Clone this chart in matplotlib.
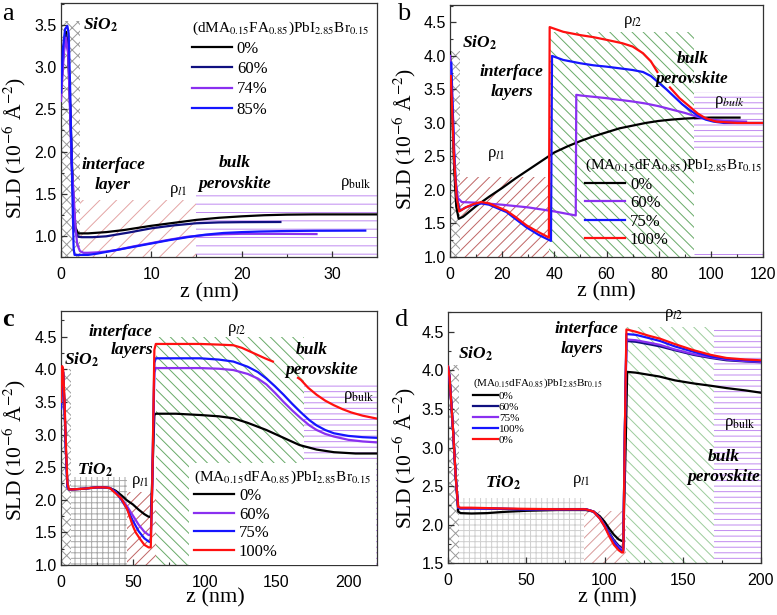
"""
SLD profiles (a–d) – four panels with hatched layer regions.
"""
import numpy as np
import matplotlib.pyplot as plt
from matplotlib.patches import Rectangle
from matplotlib.ticker import MultipleLocator

plt.rcParams['font.family'] = ['Liberation Serif', 'DejaVu Serif']
plt.rcParams['mathtext.fontset'] = 'stix'
plt.rcParams['hatch.linewidth'] = 0.7

nan = np.nan

# ── colours ─────────────────────────────────────────────────────────────────
BLACK, NAVY, PURPLE, BLUE, RED = '#000000', '#101080', '#8a30f0', '#1515ff', '#ff1010'
C_SIO2, C_TIO2 = '#9a9a9a', '#a8a8a8'
C_L1, C_L2, C_BULK = '#c06565', '#68aa68', '#c08af0'

TITLE_A = '(dMA$_{0.15}$FA$_{0.85}$)PbI$_{2.85}$Br$_{0.15}$'
TITLE_BCD = '(MA$_{0.15}$dFA$_{0.85}$)PbI$_{2.85}$Br$_{0.15}$'

# ── panel a ─────────────────────────────────────────────────────────────────
A_LABELS = ['0%', '60%', '74%', '85%']
A_Z_0 = [0, 0.3, 0.55, 0.8, 1.0, 1.2, 1.4, 1.6, 1.9, 3, 5, 7, 10, 12.5, 15,
         17.5, 20, 22.5, 25, 28, 35]
A_SLD_0 = [2.75, 3.25, 3.42, 3.2, 2.6, 1.9, 1.35, 1.1, 1.03, 1.03, 1.045, 1.07,
           1.12, 1.155, 1.19, 1.215, 1.232, 1.245, 1.252, 1.255, 1.255]
A_Z_60 = [0, 0.3, 0.55, 0.8, 1.0, 1.2, 1.4, 1.6, 1.9, 2.3, 3.5, 5, 7.5, 10,
          12.5, 15, 17.5, 20, 24.3]
A_SLD_60 = [2.7, 3.2, 3.38, 3.18, 2.55, 1.85, 1.3, 1.05, 0.99, 0.985, 0.985,
            0.995, 1.04, 1.09, 1.125, 1.15, 1.16, 1.163, 1.165]
A_Z_74 = [0, 0.3, 0.55, 0.8, 1.0, 1.2, 1.4, 1.6, 1.8, 2.1, 2.5, 3, 4, 5, 6, 8,
          10, 12, 14, 16, 18, 20, 22, 25, 28.3]
A_SLD_74 = [2.6, 3.15, 3.35, 3.15, 2.5, 1.8, 1.5, 1.1, 0.9, 0.82, 0.80, 0.80,
            0.805, 0.815, 0.83, 0.875, 0.915, 0.955, 0.99, 1.01, 1.02, 1.025,
            1.025, 1.024, 1.022]
A_Z_85 = [0, 0.2, 0.45, 0.7, 0.85, 1.0, 1.2, 1.4, 1.5, 2, 3, 4, 5, 6, 8, 10, 12,
          14, 16, 18, 20, 22, 25, 28, 33.7]
A_SLD_85 = [2.7, 3.2, 3.45, 3.49, 3.4, 2.8, 1.8, 0.85, 0.775, 0.775, 0.775,
            0.79, 0.81, 0.83, 0.87, 0.91, 0.95, 0.985, 1.015, 1.035, 1.045,
            1.052, 1.058, 1.061, 1.063]

# ── panel b ─────────────────────────────────────────────────────────────────
B_LABELS = ['0%', '60%', '75%', '100%']
B_Z_0 = [0, 0.8, 1.6, 2.4, 3.3, 5, 7.5, 10, 15, 20, 25, 30, 35, 40, 45, 50, 55,
         60, 65, 70, 75, 80, 85, 90, 95, 100, 111]
B_SLD_0 = [4.05, 3.2, 2.3, 1.75, 1.57, 1.6, 1.68, 1.76, 1.9, 2.03, 2.17, 2.3,
           2.43, 2.56, 2.65, 2.73, 2.8, 2.86, 2.92, 2.96, 3.0, 3.03, 3.05,
           3.065, 3.075, 3.08, 3.08]
B_Z_60 = [0, 1, 2, 3, 4.5, 10, 20, 30, 40, 48.2, 48.4, 50, 60, 70, 75, 80, 85,
          90, 95, 100, 105, 113.5]
B_SLD_60 = [4.0, 3.2, 2.2, 1.88, 1.82, 1.81, 1.78, 1.74, 1.68, 1.62, 3.42, 3.41,
            3.37, 3.32, 3.29, 3.25, 3.2, 3.15, 3.09, 3.05, 3.03, 3.02]
B_Z_75 = [0.5, 1.5, 2.5, 3.8, 6, 9, 12, 15, 18, 21.7, 25, 29.4, 34, 38.7, 39.1,
          43.4, 50, 55, 60, 66, 70, 74, 77, 80, 83, 86, 89, 92, 95, 98, 101,
          105, 110, 120]
B_SLD_75 = [3.9, 2.6, 1.9, 1.69, 1.74, 1.78, 1.8, 1.78, 1.73, 1.67, 1.57, 1.44,
            1.33, 1.24, 4.0, 3.94, 3.89, 3.86, 3.84, 3.81, 3.79, 3.76, 3.7, 3.6,
            3.5, 3.39, 3.28, 3.19, 3.11, 3.05, 3.02, 3.0, 3.0, 3.0]
B_Z_100 = [0.3, 1.5, 2.5, 3.5, 6, 9, 12, 15, 18, 21.7, 25, 29.4, 34, 37.9, 38.2,
           43.4, 50, 55, 60, 66, 70, 74, 77, 79.5, nan, 84.3, 88, 92, 95, 98,
           102, 106, 110, 120]
B_SLD_100 = [3.7, 2.5, 1.9, 1.68, 1.74, 1.79, 1.82, 1.8, 1.75, 1.69, 1.6, 1.47,
             1.37, 1.29, 4.43, 4.36, 4.31, 4.28, 4.24, 4.19, 4.14, 4.04, 3.92,
             3.76, nan, 3.53, 3.37, 3.24, 3.14, 3.07, 3.02, 3.01, 3.0, 3.0]

# ── panel c ─────────────────────────────────────────────────────────────────
C_LABELS = ['0%', '60%', '75%', '100%']
C_Z_0 = [0, 0.8, 1.5, 2.5, 3.5, 4.5, 5.5, 8, 12, 16, 20, 25, 30, 34, 38, 42, 46,
         50, 54, 58, 61, 62.5, 63.5, 65, 66, 80, 97, 110, 120, 130, 143, 155,
         166, 178, 190, 205, 220]
C_SLD_0 = [3.4, 4.02, 3.95, 3.4, 2.7, 2.2, 2.16, 2.16, 2.165, 2.17, 2.18, 2.19,
           2.19, 2.18, 2.14, 2.07, 1.99, 1.93, 1.85, 1.78, 1.74, 1.74, 2.3, 3.3,
           3.32, 3.32, 3.3, 3.28, 3.25, 3.18, 3.07, 2.95, 2.84, 2.77, 2.73,
           2.71, 2.71]
C_Z = [0, 0.8, 1.5, 2.5, 3.5, 4.5, 5.5, 8, 12, 16, 20, 25, 30, 34, 38, 42, 46,
       50, 54, 58, 61, 62.5, 63.5, 65, 66, 80, 97, 110, 120, 130, 137, 143, 149,
       155, 161, 167, 173, 178, 184, 190, 200, 210, 220]
C_SLD_60 = [3.4, 4.02, 3.95, 3.4, 2.7, 2.2, 2.16, 2.16, 2.165, 2.17, 2.18, 2.19,
            2.19, 2.18, 2.12, 2.02, 1.9, 1.76, 1.62, 1.51, 1.46, 1.46, 2.2,
            3.95, 4.02, 4.02, 4.02, 4.01, 3.99, 3.93, 3.86, 3.77, 3.64, 3.5,
            3.37, 3.25, 3.14, 3.07, 3.01, 2.97, 2.92, 2.895, 2.88]
C_SLD_75 = [3.4, 4.02, 3.95, 3.4, 2.7, 2.2, 2.16, 2.16, 2.165, 2.17, 2.18, 2.19,
            2.19, 2.18, 2.12, 2.0, 1.86, 1.68, 1.52, 1.41, 1.36, 1.35, 2.2, 4.1,
            4.17, 4.17, 4.17, 4.15, 4.12, 4.04, 3.96, 3.86, 3.74, 3.61, 3.47,
            3.34, 3.22, 3.14, 3.07, 3.02, 2.98, 2.96, 2.95]
C_Z_100 = [0, 0.8, 1.5, 2.5, 3.5, 4.5, 5.5, 8, 12, 16, 20, 25, 30, 34, 38, 42,
           46, 50, 52, 55, 58, 61, 62.5, 63.5, 65, 66, 80, 97, 110, 120, 126,
           132, 138, 142, 147.5, nan, 165, 167, 172, 178, 184, 190, 196, 202,
           210, 220]
C_SLD_100 = [3.5, 4.05, 4.0, 3.5, 2.8, 2.25, 2.16, 2.16, 2.165, 2.17, 2.18,
             2.19, 2.19, 2.18, 2.1, 2.02, 1.86, 1.6, 1.5, 1.4, 1.31, 1.27, 1.27,
             2.2, 4.3, 4.39, 4.39, 4.39, 4.38, 4.37, 4.33, 4.27, 4.21, 4.17,
             4.12, nan, 3.87, 3.84, 3.72, 3.61, 3.52, 3.45, 3.39, 3.34, 3.29,
             3.245]

# ── panel d ─────────────────────────────────────────────────────────────────
D_LABELS = ['0%', '60%', '75%', '100%', '0%']
D_Z_0 = [0, 1, 3, 5, 6.5, 8, 15, 25, 35, 50, 70, 88, 93, 97, 100, 103, 106, 109,
         111, 112, 113.5, 114.5, 120, 135, 145, 157, 168, 178, 190, 200]
D_SLD_0 = [4.05, 3.9, 3.3, 2.6, 2.17, 2.15, 2.145, 2.15, 2.165, 2.18, 2.19,
           2.19, 2.17, 2.11, 2.04, 1.95, 1.87, 1.81, 1.79, 1.8, 3.0, 3.98, 3.97,
           3.92, 3.87, 3.83, 3.8, 3.77, 3.74, 3.71]
D_Z = [0, 1, 3, 5, 6.5, 8, 15, 25, 35, 50, 70, 88, 93, 97, 100, 103, 106, 109,
       111, 112, 113, 114, 120, 128, 135.5, 145, 157, 168, 178, 190, 200]
D_SLD_60 = [4.05, 3.9, 3.3, 2.6, 2.22, 2.21, 2.21, 2.21, 2.205, 2.2, 2.2, 2.2,
            2.17, 2.09, 2.0, 1.9, 1.8, 1.73, 1.7, 1.7, 3.2, 4.38, 4.37, 4.34,
            4.31, 4.26, 4.2, 4.16, 4.13, 4.115, 4.105]
D_SLD_75 = [4.05, 3.9, 3.3, 2.6, 2.22, 2.21, 2.21, 2.21, 2.205, 2.2, 2.2, 2.2,
            2.17, 2.09, 1.99, 1.88, 1.78, 1.71, 1.68, 1.68, 3.2, 4.40, 4.39,
            4.36, 4.33, 4.27, 4.21, 4.17, 4.14, 4.12, 4.11]
D_SLD_100 = [4.05, 3.9, 3.3, 2.6, 2.22, 2.215, 2.215, 2.21, 2.205, 2.2, 2.2,
             2.2, 2.17, 2.08, 1.98, 1.87, 1.77, 1.69, 1.66, 1.66, 3.2, 4.47,
             4.46, 4.42, 4.38, 4.31, 4.24, 4.18, 4.15, 4.13, 4.12]
D_SLD_0R = [4.05, 3.9, 3.3, 2.6, 2.23, 2.22, 2.22, 2.215, 2.21, 2.205, 2.2, 2.2,
            2.17, 2.08, 1.98, 1.85, 1.74, 1.67, 1.64, 1.64, 3.2, 4.53, 4.5,
            4.45, 4.41, 4.34, 4.26, 4.2, 4.16, 4.14, 4.13]

# hatched layer boxes: (z0, z1, sld0, sld1, hatch, colour)
A_BOXES = [(0, 2.1, 0.75, 3.55, 'xxx', C_SIO2),
           (2.1, 15, 0.75, 1.43, '//', '#e4a4a4'),
           (15, 35, 0.75, 1.53, '--', C_BULK)]
B_BOXES = [(0, 3.8, 1.0, 4.08, 'xxx', C_SIO2),
           (3.8, 38, 1.0, 2.2, '///', C_L1),
           (38, 93.5, 1.0, 4.35, '\\\\\\', C_L2),
           (93.5, 120, 2.62, 3.46, '---', C_BULK)]
C_BOXES = [(0, 7, 1.0, 4.0, 'xxx', C_SIO2),
           (7, 46, 1.0, 2.35, '+++', C_TIO2),
           (46, 66, 1.0, 2.12, '///', C_L1),
           (66, 169, 1.0, 4.5, '\\\\\\', C_L2),
           (169, 220, 1.0, 3.81, '---', C_BULK)]
D_BOXES = [(0, 7, 1.5, 4.07, 'xxx', C_SIO2),
           (7, 87, 1.5, 2.35, '+++', '#cfcfcf'),
           (87, 114, 1.5, 2.18, '///', '#d89a9a'),
           (114, 170, 1.5, 4.56, '\\\\\\', '#9ccc9c'),
           (170, 200, 1.5, 4.56, '---', C_BULK)]

SIO2 = 'SiO$_{\\mathbf{2}}$'
TIO2 = 'TiO$_{\\mathbf{2}}$'
RHO_L1, RHO_L2 = 'ρ$_{l1}$', 'ρ$_{l2}$'
RHO_BULK, RHO_BULK_IT = 'ρ$_{\\mathrm{bulk}}$', 'ρ$_{bulk}$'

# annotations: (z, sld, text, bold-italic?, ha)
A_TEXT = [(2.4, 3.5, SIO2, True, 'left'),
          (5.8, 1.84, 'interface', True, 'center'),
          (5.7, 1.6, 'layer', True, 'center'),
          (13.0, 1.53, RHO_L1, False, 'center'),
          (19.2, 1.86, 'bulk', True, 'center'),
          (19.2, 1.62, 'perovskite', True, 'center'),
          (32.6, 1.62, RHO_BULK, False, 'center')]
B_TEXT = [(4.5, 4.19, SIO2, True, 'left'),
          (23.6, 3.76, 'interface', True, 'center'),
          (23.6, 3.46, 'layers', True, 'center'),
          (17.9, 2.52, RHO_L1, False, 'center'),
          (70.2, 4.51, RHO_L2, False, 'center'),
          (93.2, 3.96, 'bulk', True, 'center'),
          (92.6, 3.66, 'perovskite', True, 'center'),
          (107.2, 3.31, RHO_BULK_IT, False, 'center')]
C_TEXT = [(2.3, 4.14, SIO2, True, 'left'),
          (41.1, 4.58, 'interface', True, 'center'),
          (49.2, 4.30, 'layers', True, 'center'),
          (23.7, 2.46, TIO2, True, 'center'),
          (55.0, 2.28, RHO_L1, False, 'center'),
          (122.3, 4.60, RHO_L2, False, 'center'),
          (174.5, 4.30, 'bulk', True, 'center'),
          (181.4, 3.99, 'perovskite', True, 'center'),
          (207.0, 3.58, RHO_BULK, False, 'center')]
D_TEXT = [(6.4, 4.22, SIO2, True, 'left'),
          (88.5, 4.54, 'interface', True, 'center'),
          (85.3, 4.28, 'layers', True, 'center'),
          (35.2, 2.54, TIO2, True, 'center'),
          (85.3, 2.56, RHO_L1, False, 'center'),
          (143.9, 4.72, RHO_L2, False, 'center'),
          (186.6, 3.31, RHO_BULK, False, 'center'),
          (175.9, 2.88, 'bulk', True, 'center'),
          (175.9, 2.62, 'perovskite', True, 'center')]

SERIF = 'Liberation Serif'


def setup_axes(ax, xlim, ylim, xmaj, ymaj, xlab_pos, ylab_pos):
    ax.set_xlim(*xlim)
    ax.set_ylim(*ylim)
    ax.xaxis.set_major_locator(MultipleLocator(xmaj))
    ax.xaxis.set_minor_locator(MultipleLocator(xmaj / 2))
    ax.yaxis.set_major_locator(MultipleLocator(ymaj))
    ax.yaxis.set_minor_locator(MultipleLocator(ymaj / 2))
    ax.tick_params(which='both', direction='in', labelsize=11.5,
                   labelfontfamily='Liberation Sans', color='#333333')
    ax.tick_params(which='major', length=4.5, width=0.9)
    ax.tick_params(which='minor', length=2.5, width=0.8)
    ax.tick_params(axis='x', pad=7)
    ax.tick_params(axis='y', pad=3)
    for s in ax.spines.values():
        s.set_linewidth(0.9)
        s.set_color('#333333')
    ax.set_xlabel('z (nm)', fontsize=16)
    ax.set_ylabel('SLD (10$^{-6}$ Å$^{-2}$)', fontsize=15.5)
    ax.xaxis.set_label_coords(*xlab_pos)
    ax.xaxis.label.set_verticalalignment('center')
    ax.yaxis.set_label_coords(*ylab_pos)
    ax.yaxis.label.set_verticalalignment('center')
    ax.yaxis.label.set_horizontalalignment('center')


def draw_boxes(ax, boxes):
    for z0, z1, s0, s1, hatch, col in boxes:
        ax.add_patch(Rectangle((z0, s0), z1 - z0, s1 - s0, fill=False,
                               hatch=hatch, edgecolor=col, linewidth=0,
                               zorder=1))


def draw_text(ax, items, size=12.5):
    for z, s, txt, bi, ha in items:
        if bi:
            ax.text(z, s, txt, ha=ha, va='center', fontsize=size,
                    fontweight='bold', fontstyle='italic', zorder=4)
        else:
            ax.text(z, s, txt, ha=ha, va='center', fontsize=12, zorder=4)


def draw_curves(ax, series, lw=1.6):
    handles = []
    for z, sld, col in series:
        h, = ax.plot(z, sld, color=col, lw=lw, zorder=3)
        handles.append(h)
    return handles


def add_legend(ax, handles, labels, title, anchor, size, tsize, **kw):
    opts = dict(loc='upper left', frameon=False, handlelength=2.4,
                handletextpad=0.3, labelspacing=0.2, borderpad=0,
                borderaxespad=0, alignment='left')
    opts.update(kw)
    return ax.legend(handles, labels, title=title, bbox_to_anchor=anchor,
                     prop={'family': SERIF, 'size': size},
                     title_fontproperties={'family': SERIF, 'size': tsize},
                     **opts)


fig = plt.figure(figsize=(7.77, 6.15), dpi=100)
ax_a = fig.add_axes([0.0785, 0.5821, 0.4067, 0.4130])
ax_b = fig.add_axes([0.5792, 0.5821, 0.4028, 0.4098])
ax_c = fig.add_axes([0.0785, 0.0813, 0.4067, 0.4135])
ax_d = fig.add_axes([0.5766, 0.0841, 0.4028, 0.4091])

# ── a ──
setup_axes(ax_a, (0, 35), (0.75, 3.76), 10, 0.5, (0.47, -0.142), (-0.148, 0.43))
draw_boxes(ax_a, A_BOXES)
h = draw_curves(ax_a, [(A_Z_0, A_SLD_0, BLACK), (A_Z_60, A_SLD_60, NAVY),
                       (A_Z_74, A_SLD_74, PURPLE), (A_Z_85, A_SLD_85, BLUE)])
draw_text(ax_a, A_TEXT)
add_legend(ax_a, h, A_LABELS, TITLE_A, (0.414, 0.935), 12, 11,
           labelspacing=0.25)

# ── b ──
setup_axes(ax_b, (0, 120), (1.0, 4.76), 20, 0.5, (0.50, -0.139), (-0.147, 0.468))
draw_boxes(ax_b, B_BOXES)
ax_b.hlines(1.05, 93.5, 120, color=C_BULK, lw=0.7, zorder=1)
h = draw_curves(ax_b, [(B_Z_0, B_SLD_0, BLACK), (B_Z_60, B_SLD_60, PURPLE),
                       (B_Z_75, B_SLD_75, BLUE), (B_Z_100, B_SLD_100, RED)])
draw_text(ax_b, B_TEXT)
add_legend(ax_b, h, B_LABELS, TITLE_BCD, (0.431, 0.398), 12, 11,
           labelspacing=0.15)

# ── c ──
setup_axes(ax_c, (0, 220), (1.0, 4.9), 50, 0.5, (0.49, -0.13), (-0.148, 0.452))
draw_boxes(ax_c, C_BOXES)
h = draw_curves(ax_c, [(C_Z_0, C_SLD_0, BLACK), (C_Z, C_SLD_60, PURPLE),
                       (C_Z, C_SLD_75, BLUE), (C_Z_100, C_SLD_100, RED)])
draw_text(ax_c, C_TEXT)
leg = add_legend(ax_c, h, C_LABELS, TITLE_BCD, (0.405, 0.40), 12, 11,
                 labelspacing=0.15, frameon=True, borderpad=0.3, fancybox=False)
leg.get_frame().set_facecolor('white')
leg.get_frame().set_edgecolor('none')
leg.get_frame().set_alpha(1)

# ── d ──
setup_axes(ax_d, (0, 200), (1.5, 4.76), 50, 0.5, (0.51, -0.138), (-0.141, 0.42))
draw_boxes(ax_d, D_BOXES)
h = draw_curves(ax_d, [(D_Z_0, D_SLD_0, BLACK), (D_Z, D_SLD_60, NAVY),
                       (D_Z, D_SLD_75, PURPLE), (D_Z, D_SLD_100, BLUE),
                       (D_Z, D_SLD_0R, RED)])
draw_text(ax_d, D_TEXT)
add_legend(ax_d, h, D_LABELS, TITLE_BCD, (0.081, 0.744), 8, 8,
           handlelength=2.2, handletextpad=0.1, labelspacing=0.12)

# panel letters
fig.text(2 / 777, 1 - 20 / 615, 'a', fontsize=19, va='baseline')
fig.text(397 / 777, 1 - 20 / 615, 'b', fontsize=19, va='baseline')
fig.text(2 / 777, 1 - 326 / 615, 'c', fontsize=19, va='baseline', fontweight='bold')
fig.text(395 / 777, 1 - 326 / 615, 'd', fontsize=19, va='baseline')

fig.savefig('out.png', dpi=100)
